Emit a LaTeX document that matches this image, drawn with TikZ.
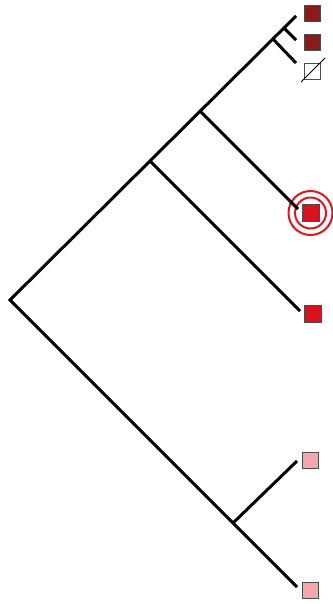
\documentclass[tikz,border=0pt]{standalone}
\begin{document}
\begin{tikzpicture}[x=1pt,y=-1pt,
  br/.style={line width=3pt},
  leaf/.style={draw=black!70,line width=0.8pt,minimum size=16pt,inner sep=0pt,outer sep=0pt},
  ring/.style={draw=ringred,line width=2pt,circle,inner sep=0pt}]
\definecolor{darkred}{HTML}{8B1A1A}
\definecolor{midred}{HTML}{D7141E}
\definecolor{pinkleaf}{HTML}{F4A6AA}
\definecolor{ringred}{HTML}{E3141E}
\useasboundingbox (0,0) rectangle (332,604);
% internal nodes
\coordinate (root) at (10,300);
\coordinate (n1) at (150,161);
\coordinate (n2) at (200,111);
\coordinate (n3) at (273,39);
\coordinate (n4) at (284,28);
\coordinate (n5) at (233,523);
% branch ends
\coordinate (e1) at (296,16);
\coordinate (e2) at (296,40);
\coordinate (e3) at (296,63);
\coordinate (e4) at (298,209);
\coordinate (e5) at (300,311);
\coordinate (e6) at (297,461);
\coordinate (e7) at (297,587);
% leaves
\node[leaf,fill=darkred] (l1) at (312.5,13) {};
\node[leaf,fill=darkred] (l2) at (312,42.5) {};
\node[leaf,fill=white] (l3) at (312,71) {};
\coordinate (s1) at (301,82);
\coordinate (s2) at (325,58);
\draw[line width=0.8pt] (s1) -- (s2);
\node[leaf,fill=midred,minimum size=17pt] (l4) at (310.5,213) {};
\node[ring,minimum size=31pt] (r1) at (l4) {};
\node[ring,minimum size=44pt] (r2) at (l4) {};
\node[leaf,fill=midred,minimum size=17pt] (l5) at (313,314) {};
\node[leaf,fill=pinkleaf] (l6) at (310,460) {};
\node[leaf,fill=pinkleaf] (l7) at (310,590) {};
% branches
\draw[br] (e1) -- (root) -- (e7);
\draw[br] (n1) -- (e5);
\draw[br] (n2) -- (e4);
\draw[br] (n3) -- (e3);
\draw[br] (n4) -- (e2);
\draw[br] (n5) -- (e6);
\end{tikzpicture}
\end{document}
